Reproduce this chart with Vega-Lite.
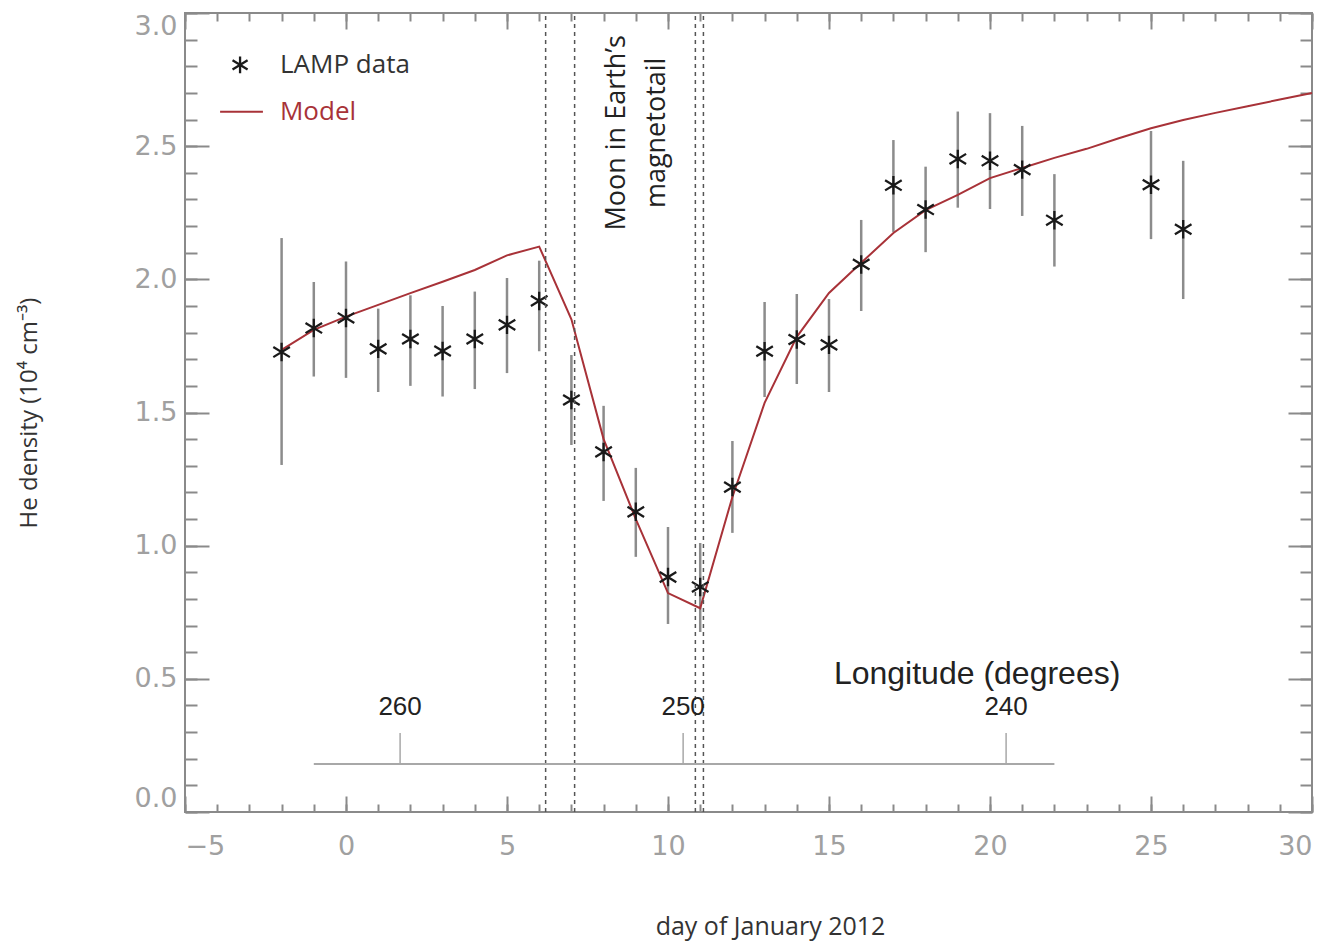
{
  "$schema": "https://vega.github.io/schema/vega-lite/v6.json",
  "width": 1127,
  "height": 799,
  "autosize": "none",
  "padding": {"left": 185, "top": 13, "right": 19, "bottom": 133},
  "background": "white",
  "config": {
    "font": "Open Sans",
    "view": {"stroke": "#8a8a8a", "strokeWidth": 2},
    "axis": {"domain": false, "grid": false, "tickColor": "#8a8a8a", "tickWidth": 2, "labelFont": "DejaVu Sans", "labelColor": "#a0a0a0", "labelFontSize": 27, "titleFont": "Open Sans", "titleColor": "#333333", "titleFontWeight": "normal"}
  },
  "datasets": {
    "lamp": [
      {"day": -2, "he": 1.727, "lo": 1.303, "hi": 2.155},
      {"day": -1, "he": 1.817, "lo": 1.635, "hi": 1.99},
      {"day": 0, "he": 1.855, "lo": 1.63, "hi": 2.067},
      {"day": 1, "he": 1.739, "lo": 1.577, "hi": 1.89},
      {"day": 2, "he": 1.776, "lo": 1.6, "hi": 1.94},
      {"day": 3, "he": 1.731, "lo": 1.56, "hi": 1.9},
      {"day": 4, "he": 1.776, "lo": 1.588, "hi": 1.954},
      {"day": 5, "he": 1.829, "lo": 1.648, "hi": 2.005},
      {"day": 6, "he": 1.919, "lo": 1.73, "hi": 2.07},
      {"day": 7, "he": 1.547, "lo": 1.378, "hi": 1.716},
      {"day": 8, "he": 1.352, "lo": 1.168, "hi": 1.525},
      {"day": 9, "he": 1.127, "lo": 0.958, "hi": 1.292},
      {"day": 10, "he": 0.882, "lo": 0.706, "hi": 1.07},
      {"day": 11, "he": 0.845, "lo": 0.676, "hi": 1.01},
      {"day": 12, "he": 1.22, "lo": 1.048, "hi": 1.393},
      {"day": 13, "he": 1.73, "lo": 1.558, "hi": 1.915},
      {"day": 14, "he": 1.774, "lo": 1.607, "hi": 1.945},
      {"day": 15, "he": 1.754, "lo": 1.577, "hi": 1.926},
      {"day": 16, "he": 2.056, "lo": 1.881, "hi": 2.223},
      {"day": 17, "he": 2.353, "lo": 2.178, "hi": 2.523},
      {"day": 18, "he": 2.262, "lo": 2.102, "hi": 2.423},
      {"day": 19, "he": 2.452, "lo": 2.269, "hi": 2.63},
      {"day": 20, "he": 2.445, "lo": 2.264, "hi": 2.624},
      {"day": 21, "he": 2.412, "lo": 2.238, "hi": 2.576},
      {"day": 22, "he": 2.222, "lo": 2.048, "hi": 2.395},
      {"day": 25, "he": 2.355, "lo": 2.151, "hi": 2.557},
      {"day": 26, "he": 2.188, "lo": 1.926, "hi": 2.445}
    ],
    "model": [
      {"day": -2, "model": 1.735}, {"day": -1, "model": 1.81}, {"day": 0, "model": 1.86},
      {"day": 1, "model": 1.904}, {"day": 2, "model": 1.948}, {"day": 3, "model": 1.991},
      {"day": 4, "model": 2.035}, {"day": 5, "model": 2.09}, {"day": 6, "model": 2.123},
      {"day": 7, "model": 1.85}, {"day": 8, "model": 1.4}, {"day": 9, "model": 1.1},
      {"day": 10, "model": 0.822}, {"day": 11, "model": 0.765}, {"day": 12, "model": 1.183},
      {"day": 13, "model": 1.536}, {"day": 14, "model": 1.784}, {"day": 15, "model": 1.949},
      {"day": 16, "model": 2.062}, {"day": 17, "model": 2.174}, {"day": 18, "model": 2.26},
      {"day": 19, "model": 2.317}, {"day": 20, "model": 2.38}, {"day": 21, "model": 2.418},
      {"day": 22, "model": 2.456}, {"day": 23, "model": 2.49}, {"day": 24, "model": 2.53},
      {"day": 25, "model": 2.567}, {"day": 26, "model": 2.598}, {"day": 27, "model": 2.625},
      {"day": 28, "model": 2.65}, {"day": 29, "model": 2.675}, {"day": 30, "model": 2.7}
    ],
    "vlines": [{"day": 6.2}, {"day": 7.1}, {"day": 10.85}, {"day": 11.1}],
    "lonticks": [
      {"day": 1.68, "lon": "260"},
      {"day": 10.47, "lon": "250"},
      {"day": 20.5, "lon": "240"}
    ],
    "lonaxis": [{"start": -1, "end": 22, "level": 0.18}],
    "tail": [
      {"day": 8.42, "level": 2.55, "label": "Moon in Earth’s"},
      {"day": 9.66, "level": 2.55, "label": "magnetotail"}
    ]
  },
  "resolve": {"axis": {"x": "independent", "y": "independent"}},
  "layer": [
    {
      "data": {"name": "lamp"},
      "mark": {"type": "rule", "stroke": "#8c8c8c", "strokeWidth": 2.5},
      "encoding": {
        "x": {"field": "day", "type": "quantitative",
          "scale": {"domain": [-5, 30], "nice": false, "zero": false},
          "axis": {"orient": "bottom", "values": [-5, 0, 5, 10, 15, 20, 25, 30], "tickSize": -16, "labelPadding": 37,
            "title": "day of January 2012", "titleFontSize": 25, "titleX": 585, "titleY": 102, "titleBaseline": "top"}},
        "y": {"field": "lo", "type": "quantitative",
          "scale": {"domain": [0, 3], "nice": false, "zero": false},
          "axis": {"orient": "left", "values": [0, 0.5, 1, 1.5, 2, 2.5, 3], "format": ".1f", "tickSize": -24, "labelPadding": 32, "labelFlush": true,
            "title": "He density (10⁴ cm⁻³)", "titleFontSize": 24, "titleX": -144}},
        "y2": {"field": "hi"}
      }
    },
    {
      "data": {"name": "model"},
      "mark": {"type": "line", "stroke": "#a83238", "strokeWidth": 2},
      "encoding": {
        "x": {"field": "day", "type": "quantitative",
          "axis": {"orient": "bottom", "values": [-5,-4,-3,-2,-1,0,1,2,3,4,5,6,7,8,9,10,11,12,13,14,15,16,17,18,19,20,21,22,23,24,25,26,27,28,29,30], "tickSize": -8, "labels": false, "title": null}},
        "y": {"field": "model", "type": "quantitative",
          "axis": {"orient": "left", "values": [0,0.1,0.2,0.3,0.4,0.5,0.6,0.7,0.8,0.9,1,1.1,1.2,1.3,1.4,1.5,1.6,1.7,1.8,1.9,2,2.1,2.2,2.3,2.4,2.5,2.6,2.7,2.8,2.9,3], "tickSize": -12, "labels": false, "title": null}}
      }
    },
    {
      "data": {"name": "lamp"},
      "mark": {"type": "point", "shape": "M0,-1L0,1M-0.9,-0.55L0.9,0.55M-0.9,0.55L0.9,-0.55", "size": 340, "filled": false, "stroke": "#1a1a1a", "strokeWidth": 2.3, "opacity": 1},
      "encoding": {
        "x": {"field": "day", "type": "quantitative",
          "axis": {"orient": "top", "values": [-5, 0, 5, 10, 15, 20, 25, 30], "tickSize": -16, "labels": false, "title": null}},
        "y": {"field": "he", "type": "quantitative",
          "axis": {"orient": "right", "values": [0, 0.5, 1, 1.5, 2, 2.5, 3], "tickSize": -24, "labels": false, "title": null}}
      }
    },
    {
      "data": {"name": "vlines"},
      "mark": {"type": "rule", "stroke": "#555555", "strokeWidth": 1.5, "strokeDash": [4, 4]},
      "encoding": {
        "x": {"field": "day", "type": "quantitative",
          "axis": {"orient": "top", "values": [-5,-4,-3,-2,-1,0,1,2,3,4,5,6,7,8,9,10,11,12,13,14,15,16,17,18,19,20,21,22,23,24,25,26,27,28,29,30], "tickSize": -8, "labels": false, "title": null}},
        "y": {"datum": 0, "type": "quantitative",
          "axis": {"orient": "right", "values": [0,0.1,0.2,0.3,0.4,0.5,0.6,0.7,0.8,0.9,1,1.1,1.2,1.3,1.4,1.5,1.6,1.7,1.8,1.9,2,2.1,2.2,2.3,2.4,2.5,2.6,2.7,2.8,2.9,3], "tickSize": -12, "labels": false, "title": null}},
        "y2": {"datum": 3}
      }
    },
    {
      "data": {"name": "lonaxis"},
      "mark": {"type": "rule", "stroke": "#a8a8a8", "strokeWidth": 2},
      "encoding": {
        "x": {"field": "start", "type": "quantitative", "axis": null},
        "x2": {"field": "end"},
        "y": {"field": "level", "type": "quantitative", "axis": null}
      }
    },
    {
      "data": {"name": "lonticks"},
      "mark": {"type": "rule", "stroke": "#a8a8a8", "strokeWidth": 1.5},
      "encoding": {
        "x": {"field": "day", "type": "quantitative", "axis": null},
        "y": {"datum": 0.18, "type": "quantitative", "axis": null},
        "y2": {"datum": 0.297}
      }
    },
    {
      "data": {"name": "lonticks"},
      "mark": {"type": "text", "font": "Liberation Sans", "fontSize": 26, "color": "#222222", "baseline": "middle", "align": "center"},
      "encoding": {
        "x": {"field": "day", "type": "quantitative", "axis": null},
        "y": {"datum": 0.394, "type": "quantitative", "axis": null},
        "text": {"field": "lon"}
      }
    },
    {
      "data": {"values": [{"label": "Longitude (degrees)"}]},
      "mark": {"type": "text", "font": "Liberation Sans", "fontSize": 32, "color": "#222222", "baseline": "middle", "align": "center"},
      "encoding": {
        "x": {"datum": 19.6, "type": "quantitative", "axis": null},
        "y": {"datum": 0.52, "type": "quantitative", "axis": null},
        "text": {"field": "label"}
      }
    },
    {
      "data": {"name": "tail"},
      "mark": {"type": "text", "font": "Open Sans", "fontSize": 27, "color": "#222222", "baseline": "middle", "align": "center", "angle": 270},
      "encoding": {
        "x": {"field": "day", "type": "quantitative", "axis": null},
        "y": {"field": "level", "type": "quantitative", "axis": null},
        "text": {"field": "label"}
      }
    },
    {
      "data": {"values": [{"series": "LAMP data"}]},
      "mark": {"type": "point", "shape": "M0,-1L0,1M-0.9,-0.55L0.9,0.55M-0.9,0.55L0.9,-0.55", "size": 280, "filled": false, "stroke": "#1a1a1a", "strokeWidth": 2.3, "opacity": 1},
      "encoding": {
        "x": {"datum": -3.29, "type": "quantitative", "axis": null},
        "y": {"datum": 2.805, "type": "quantitative", "axis": null}
      }
    },
    {
      "data": {"values": [{"series": "Model"}]},
      "mark": {"type": "rule", "stroke": "#a83238", "strokeWidth": 2},
      "encoding": {
        "x": {"datum": -3.91, "type": "quantitative", "axis": null},
        "x2": {"datum": -2.58},
        "y": {"datum": 2.629, "type": "quantitative", "axis": null}
      }
    },
    {
      "data": {"values": [{"series": "LAMP data", "level": 2.805, "col": "a"}, {"series": "Model", "level": 2.629, "col": "b"}]},
      "mark": {"type": "text", "font": "Open Sans", "fontSize": 26, "baseline": "middle", "align": "left"},
      "encoding": {
        "x": {"datum": -2.05, "type": "quantitative", "axis": null},
        "y": {"field": "level", "type": "quantitative", "axis": null},
        "text": {"field": "series"},
        "color": {"field": "col", "type": "nominal", "scale": {"domain": ["a", "b"], "range": ["#333333", "#a83238"]}, "legend": null}
      }
    }
  ]
}
